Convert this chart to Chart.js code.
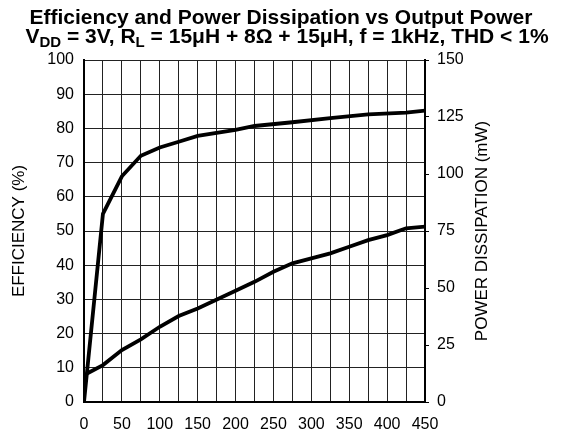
<!DOCTYPE html>
<html>
<head>
<meta charset="utf-8">
<script src="https://cdn.jsdelivr.net/npm/chart.js@4.4.1/dist/chart.umd.min.js"></script>
<style>
    body { margin: 0; background: #fff; }
    #wrap { position: relative; width: 565px; height: 437px; }
</style>
</head>
<body>
<div id="wrap"><canvas id="effChart"></canvas></div>
<script>
// Output power (mW) for each curve
const effPower = [0, 25, 50, 75, 100, 125, 150, 200, 225, 275, 325, 375, 425, 450];
const efficiency = [0, 55, 66, 72, 74.4, 76.1, 77.8, 79.6, 80.7, 81.8, 83, 84.1, 84.6, 85.2];

const dissPower = [4, 25, 50, 75, 100, 125, 150, 200, 225, 250, 275, 300, 325, 350, 375, 400, 425, 450];
const dissipation = [12.5, 16.2, 22.8, 27.5, 33, 37.7, 41, 48.8, 52.7, 57.1, 60.8, 63, 65.2, 68.1, 71, 73.2, 76.2, 76.9];

const titleLine1 = 'Efficiency and Power Dissipation vs Output Power';
// [text, isSubscript]
const titleLine2 = [['V', false], ['DD', true], [' = 3V, R', false], ['L', true], [' = 15\u03bcH + 8\u03a9 + 15\u03bcH, f = 1kHz, THD < 1%', false]];
const leftTitle = 'EFFICIENCY (%)';
const rightTitle = 'POWER DISSIPATION (mW)';

const FONT = '"Liberation Sans", Arial, sans-serif';

// Draw the two-line title and the axis titles (right one reads bottom to top)
const textPlugin = {
    id: 'textPlugin',
    afterDraw(chart) {
        const ctx = chart.ctx;
        const area = chart.chartArea;
        ctx.save();
        ctx.fillStyle = '#000';
        ctx.textBaseline = 'alphabetic';

        ctx.font = 'bold 21px ' + FONT;
        ctx.textAlign = 'center';
        ctx.fillText(titleLine1, 281, 24);

        ctx.textAlign = 'left';
        let total = 0;
        titleLine2.forEach(([t, sub]) => {
            ctx.font = (sub ? 'bold 15px ' : 'bold 21px ') + FONT;
            total += ctx.measureText(t).width;
        });
        let x = 287 - total / 2;
        titleLine2.forEach(([t, sub]) => {
            ctx.font = (sub ? 'bold 15px ' : 'bold 21px ') + FONT;
            ctx.fillText(t, x, sub ? 47 : 43);
            x += ctx.measureText(t).width;
        });

        const midY = (area.top + area.bottom) / 2;
        ctx.font = '17px ' + FONT;
        ctx.textAlign = 'center';
        ctx.textBaseline = 'middle';
        [[leftTitle, 19], [rightTitle, 482]].forEach(([t, tx]) => {
            ctx.save();
            ctx.translate(tx, midY);
            ctx.rotate(-Math.PI / 2);
            ctx.fillText(t, 0, 0);
            ctx.restore();
        });
        ctx.restore();
    }
};

const ctx = document.getElementById('effChart').getContext('2d');
new Chart(ctx, {
    type: 'line',
    data: {
        datasets: [{
            label: 'Efficiency',
            data: effPower.map((p, i) => ({ x: p, y: efficiency[i] })),
            yAxisID: 'y',
            borderColor: '#000',
            borderWidth: 3.8,
            pointRadius: 0,
            tension: 0,
            fill: false
        }, {
            label: 'Power Dissipation',
            data: dissPower.map((p, i) => ({ x: p, y: dissipation[i] })),
            yAxisID: 'y1',
            borderColor: '#000',
            borderWidth: 3.8,
            pointRadius: 0,
            tension: 0,
            fill: false
        }]
    },
    options: {
        responsive: true,
        maintainAspectRatio: false,
        animation: false,
        layout: { padding: { top: 60, left: 0, right: 0, bottom: 0 } },
        plugins: {
            legend: { display: false },
            title: { display: false },
            tooltip: { enabled: false }
        },
        scales: {
            x: {
                type: 'linear',
                min: 0,
                max: 450,
                afterFit: s => { s.height = 35; },
                ticks: {
                    stepSize: 25,
                    autoSkip: false,
                    maxRotation: 0,
                    padding: 13,
                    color: '#000',
                    font: { family: FONT, size: 16 },
                    callback: v => (v % 50 === 0 ? v : '')
                },
                grid: { color: '#222', lineWidth: 1, drawTicks: false },
                border: { display: true, color: '#000', width: 2 }
            },
            y: {
                position: 'left',
                min: 0,
                max: 100,
                afterFit: s => { s.width = 84; },
                ticks: {
                    stepSize: 10,
                    padding: 10,
                    color: '#000',
                    font: { family: FONT, size: 16 }
                },
                grid: { color: '#222', lineWidth: 1, drawTicks: false },
                border: { display: true, color: '#000', width: 2 }
            },
            y1: {
                position: 'right',
                min: 0,
                max: 150,
                afterFit: s => { s.width = 140; },
                ticks: {
                    stepSize: 25,
                    padding: 8,
                    color: '#000',
                    font: { family: FONT, size: 16 }
                },
                grid: { drawOnChartArea: false, drawTicks: true, tickLength: 4, color: '#000', lineWidth: 1 },
                border: { display: true, color: '#000', width: 2 }
            }
        }
    },
    plugins: [textPlugin]
});
</script>
</body>
</html>
